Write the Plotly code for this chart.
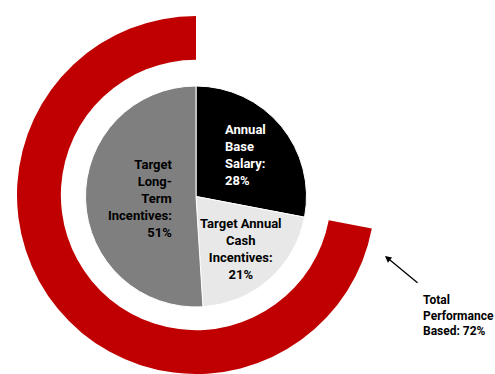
import plotly.graph_objects as go

# ---- data ----
pie_labels = ["Annual<br>Base<br>Salary:", "Target Annual<br>Cash<br>Incentives:", "Target<br>Long-<br>Term<br>Incentives:"]
pie_values = [28, 21, 51]
pie_colors = ["#000000", "#E8E8E8", "#7F7F7F"]
label_colors = ["#FFFFFF", "#000000", "#000000"]

ring_labels = ["Fixed", "Total<br>Performance<br>Based:"]
ring_values = [28, 72]
ring_colors = ["rgba(0,0,0,0)", "#C00000"]

W, H = 495, 374

def dom_x(x0, x1):
    return [x0 / W, x1 / W]

def dom_y(top, bottom):
    return [1 - bottom / H, 1 - top / H]

fig = go.Figure()

# outer ring (performance based)
fig.add_trace(go.Pie(
    labels=ring_labels, values=ring_values, hole=0.755,
    marker=dict(colors=ring_colors, line=dict(width=0)),
    direction="clockwise", sort=False, rotation=0,
    textinfo="none", hoverinfo="skip", showlegend=False,
    domain=dict(x=dom_x(17, 375), y=dom_y(16, 374)),
))

# inner pie
fig.add_trace(go.Pie(
    labels=pie_labels, values=pie_values,
    marker=dict(colors=pie_colors, line=dict(color="#FFFFFF", width=1)),
    direction="clockwise", sort=False, rotation=0,
    textinfo="none", hoverinfo="skip", showlegend=False,
    domain=dict(x=dom_x(85.5, 306.5), y=dom_y(86, 307)),
))

font = dict(family="Roboto, Liberation Sans, Arial, sans-serif", size=13)

ann_pos = [
    dict(x=223 / W, y=1 - 155 / H, xanchor="left", align="left"),
    dict(x=241 / W, y=1 - 249 / H, xanchor="center", align="center"),
    dict(x=174 / W, y=1 - 198 / H, xanchor="right", align="right"),
]
annotations = []
for lab, val, col, pos in zip(pie_labels, pie_values, label_colors, ann_pos):
    annotations.append(dict(
        text=f"<b>{lab}<br>{val}%</b>", showarrow=False, xref="paper", yref="paper",
        yanchor="middle", font=dict(color=col, **font), **pos,
    ))

annotations.append(dict(
    text=f"<b>{ring_labels[1]} {ring_values[1]}%</b>", showarrow=False,
    xref="paper", yref="paper", x=421 / W, y=1 - 315 / H,
    xanchor="left", yanchor="middle", align="left",
    font=dict(color="#000000", family=font["family"], size=12),
))
# arrow
annotations.append(dict(
    text="", showarrow=True, xref="paper", yref="paper",
    x=385 / W, y=1 - 256 / H, ax=34, ay=28,
    arrowhead=2, arrowsize=1, arrowwidth=1.3, arrowcolor="#000000",
))

fig.update_layout(
    width=W, height=H,
    margin=dict(l=0, r=0, t=0, b=0),
    paper_bgcolor="#FFFFFF", plot_bgcolor="#FFFFFF",
    annotations=annotations,
    font=font,
)

fig.write_html("out.html")
